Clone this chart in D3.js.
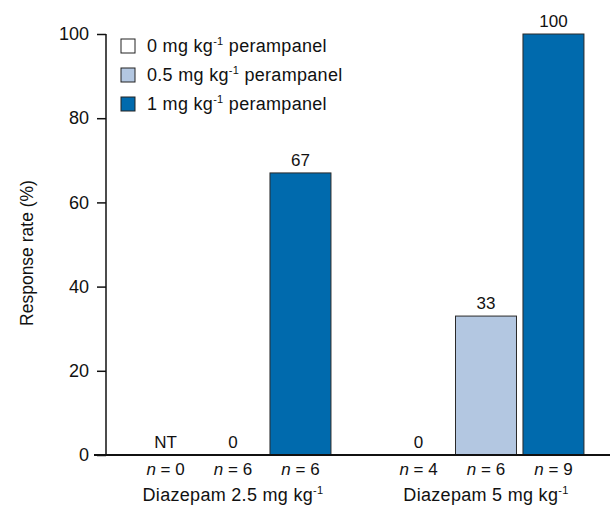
<!DOCTYPE html>
<html>
<head>
<meta charset="utf-8">
<script src="https://cdn.jsdelivr.net/npm/d3@7"></script>
<style>
  body { margin: 0; background: #fff; }
  text { font-family: "Liberation Sans", Arial, sans-serif; fill: #111; }
</style>
</head>
<body>
<svg id="chart" width="610" height="506"></svg>
<script>
// Data
var groups = ["Diazepam 2.5 mg kg", "Diazepam 5 mg kg"];
var series = ["0 mg kg", "0.5 mg kg", "1 mg kg"];
var values = [[null, 0, 67], [0, 33, 100]];   // null = not tested
var counts = [[0, 6, 6], [4, 6, 9]];
var yTicks = [0, 20, 40, 60, 80, 100];
var colors = ["#ffffff", "#b3c7e1", "#006aad"];

var svg = d3.select("#chart"),
    margin = {top: 34, left: 106, bottom: 51},
    height = +svg.attr("height") - margin.top - margin.bottom;

var y = d3.scaleLinear().domain([0, 100]).range([margin.top + height, margin.top]);

// outer scale for the two diazepam doses, inner for perampanel dose
var x0 = d3.scaleBand().domain(groups).range([106, 613])
    .paddingInner(0.2).paddingOuter(0.102);
var x1 = d3.scaleBand().domain(series).range([0, x0.bandwidth()])
    .paddingInner(0.096).paddingOuter(0.048);
var z = d3.scaleOrdinal().domain(series).range(colors);

var rows = [];
groups.forEach(function(g, i) {
  series.forEach(function(s, j) {
    rows.push({group: g, key: s, value: values[i][j], n: counts[i][j]});
  });
});

function cx(d) { return x0(d.group) + x1(d.key) + x1.bandwidth() / 2; }

// bars
svg.append("g").selectAll("rect")
  .data(rows.filter(function(d) { return d.value > 0; }))
  .enter().append("rect")
    .attr("x", function(d) { return x0(d.group) + x1(d.key); })
    .attr("y", function(d) { return y(d.value); })
    .attr("width", x1.bandwidth())
    .attr("height", function(d) { return y(0) - y(d.value); })
    .attr("fill", function(d) { return z(d.key); })
    .attr("stroke", "#2a2a2a")
    .attr("stroke-width", 1);

// value labels
svg.append("g").selectAll("text")
  .data(rows)
  .enter().append("text")
    .attr("x", cx)
    .attr("y", function(d) { return y(d.value || 0) - 7; })
    .attr("text-anchor", "middle")
    .style("font-size", "17px")
    .text(function(d) { return d.value === null ? "NT" : d.value; });

// n labels
var nl = svg.append("g").selectAll("text")
  .data(rows)
  .enter().append("text")
    .attr("x", cx)
    .attr("y", y(0) + 20)
    .attr("text-anchor", "middle")
    .style("font-size", "17px");
nl.append("tspan").attr("font-style", "italic").text("n");
nl.append("tspan").text(function(d) { return " = " + d.n; });

// group labels
var gl = svg.append("g").selectAll("text")
  .data(groups)
  .enter().append("text")
    .attr("x", function(d) { return x0(d) + x0.bandwidth() / 2; })
    .attr("y", y(0) + 46)
    .attr("text-anchor", "middle")
    .attr("font-size", 18)
    .attr("letter-spacing", 0.3);
gl.append("tspan").text(function(d) { return d; });
gl.append("tspan").attr("font-size", 11).attr("dy", -7).text("-1");

// y axis
var yAxis = svg.append("g")
    .attr("transform", "translate(" + margin.left + ",0)")
    .call(d3.axisLeft(y).tickValues(yTicks).tickSize(9).tickPadding(8));
yAxis.select(".domain").attr("stroke", "#111").attr("stroke-width", 1.5)
    .attr("d", "M0," + y(100) + "V" + y(0));
yAxis.selectAll(".tick line").attr("stroke", "#111").attr("stroke-width", 1.5);
yAxis.selectAll(".tick text").attr("font-size", 18).attr("fill", "#111")
    .attr("font-family", "Liberation Sans, Arial, sans-serif");

// x baseline
svg.append("line")
    .attr("x1", 94).attr("x2", 610)
    .attr("y1", y(0)).attr("y2", y(0))
    .attr("stroke", "#111").attr("stroke-width", 2);

svg.append("text")
    .attr("transform", "translate(33,253) rotate(-90)")
    .attr("text-anchor", "middle")
    .attr("font-size", 17.5)
    .text("Response rate (%)");

// legend
var legend = svg.append("g").selectAll("g")
  .data(series)
  .enter().append("g")
    .attr("transform", function(d, i) { return "translate(121," + (39 + i * 29) + ")"; });
legend.append("rect")
    .attr("width", 14).attr("height", 14)
    .attr("fill", z)
    .attr("stroke", "#222");
var lt = legend.append("text")
    .attr("x", 26).attr("y", 7).attr("dy", "0.35em")
    .attr("font-size", 18)
    .attr("letter-spacing", 0.3);
lt.append("tspan").text(function(d) { return d; });
lt.append("tspan").attr("font-size", 11).attr("dy", -7).text("-1");
lt.append("tspan").attr("dy", 7).text(" perampanel");
</script>
</body>
</html>
